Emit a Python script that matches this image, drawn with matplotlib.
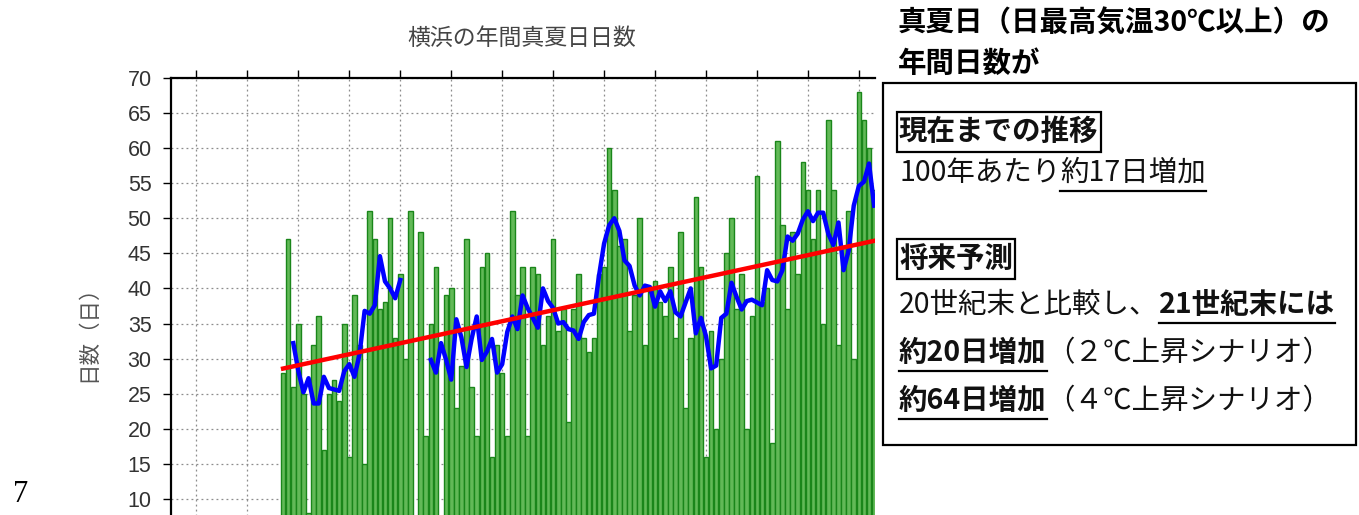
import numpy as np
import pandas as pd
import matplotlib
matplotlib.use("Agg")
import matplotlib.pyplot as plt
from matplotlib.lines import Line2D
from matplotlib.patches import Rectangle

# 横浜の年間真夏日日数（1923年は欠測）
years = list(range(1897, 2016))
days = [
    28, 47, 26, 35, 25, 8, 32, 36, 17, 25,          # 1897-1906
    27, 24, 35, 16, 39, 32, 15, 51, 47, 37,         # 1907-1916
    38, 50, 33, 42, 30, 51, np.nan, 48, 19, 35,     # 1917-1926
    43, 4, 39, 40, 23, 29, 47, 26, 19, 43,          # 1927-1936
    45, 16, 32, 28, 19, 51, 39, 43, 19, 43,         # 1937-1946
    42, 32, 36, 47, 34, 37, 21, 37, 42, 33,         # 1947-1956
    31, 33, 42, 43, 60, 54, 46, 47, 34, 39,         # 1957-1966
    50, 32, 40, 41, 38, 36, 43, 33, 48, 23,         # 1967-1976
    33, 53, 43, 16, 34, 20, 30, 45, 50, 37,         # 1977-1986
    42, 20, 36, 56, 38, 40, 18, 61, 49, 37,         # 1987-1996
    48, 42, 58, 54, 47, 54, 35, 64, 54, 32,         # 1997-2006
    46, 51, 30, 68, 64, 60, 54, 43, 38,             # 2007-2015
]
decade_ticks = list(range(1880, 2020, 10))
y_ticks = list(range(10, 75, 5))

JP = ["Noto Sans CJK JP", "DejaVu Sans"]
W, H = 1359, 515

s = pd.Series(days, index=years, dtype=float)
running = s.rolling(5, center=True).mean()
ok = s.notna()
coef = np.polyfit(s.index[ok], s[ok], 1)
trend = np.polyval(coef, s.index)

fig = plt.figure(figsize=(W / 100, H / 100), dpi=100)
ax = fig.add_axes([171 / W, 1 - 569 / H, (875 - 171) / W, 491 / H])

ax.bar(s.index, s.values, width=0.9, color="#62b957", edgecolor="#1a861a",
       linewidth=1.0, zorder=2)
ax.plot(running.index, running.values, color="#0000ff", linewidth=3.2, zorder=3)
ax.plot(s.index, trend, color="#ff0000", linewidth=3.2, zorder=4)

ax.set_xlim(1875, 2013.17)
ax.set_ylim(0, 70)
ax.set_yticks(y_ticks)
ax.set_xticks(decade_ticks)
ax.tick_params(axis="y", direction="out", length=6, width=1, pad=8,
               labelsize=15.5, labelcolor="#333333")
ax.tick_params(axis="x", direction="out", length=6, width=1, top=True,
               bottom=False, labelbottom=False)
for lab in ax.get_yticklabels():
    lab.set_family("Liberation Sans")
ax.grid(True, linestyle=(0, (1.5, 2.5)), color="#8c8c8c", linewidth=0.9)
ax.set_axisbelow(True)
ax.spines["right"].set_visible(False)
ax.spines["top"].set_linewidth(1.6)
ax.spines["left"].set_linewidth(1.6)

fig.text(522 / W, 1 - 38 / H, "横浜の年間真夏日日数", family=JP, fontsize=16.5,
         color="#444444", ha="center", va="center")
fig.text(88 / W, 1 - 328 / H, "日数（日）", family=JP, fontsize=15.5,
         color="#555555", rotation=90, ha="center", va="center")
fig.text(13 / W, 1 - 494 / H, "7", family=["Liberation Serif"], fontsize=22,
         ha="left", va="center")

# 右側の説明
fig.text(898 / W, 1 - 24 / H, "真夏日（日最高気温30℃以上）の", family=JP,
         fontsize=20.5, fontweight="bold", ha="left", va="center")
fig.text(898 / W, 1 - 64 / H, "年間日数が", family=JP,
         fontsize=20.5, fontweight="bold", ha="left", va="center")
fig.add_artist(Rectangle((883 / W, 1 - 445 / H), (1356 - 883) / W, (445 - 83) / H,
                         transform=fig.transFigure, facecolor="white",
                         edgecolor="black", linewidth=1.6, zorder=1))

renderer = fig.canvas.get_renderer()


def put_runs(x_px, y_px, runs, boxed=False):
    x = x_px
    for text, bold, under in runs:
        t = fig.text(x / W, 1 - y_px / H, text, family=JP, fontsize=20.5,
                     fontweight="bold" if bold else "normal",
                     color="#111111", ha="left", va="center", zorder=3)
        bb = t.get_window_extent(renderer)
        if under:
            yy = (H - y_px - 18) / H
            fig.add_artist(Line2D([bb.x0 / W, bb.x1 / W], [yy, yy],
                                  transform=fig.transFigure, color="black",
                                  linewidth=1.6, zorder=3))
        if boxed:
            fig.add_artist(Rectangle(((bb.x0 - 2) / W, (H - y_px - 20) / H),
                                     (bb.width + 4) / W, 40 / H,
                                     transform=fig.transFigure, fill=False,
                                     edgecolor="black", linewidth=1.6, zorder=3))
        x += bb.width


put_runs(899, 132, [("現在までの推移", True, False)], boxed=True)
put_runs(899, 173, [("100年あたり", False, False), ("約17日増加", False, True)])
put_runs(899, 259, [("将来予測", True, False)], boxed=True)
put_runs(899, 305, [("20世紀末と比較し、", False, False), ("21世紀末には", True, True)])
put_runs(899, 353, [("約20日増加", True, True), ("（２℃上昇シナリオ）", False, False)])
put_runs(899, 401, [("約64日増加", True, True), ("（４℃上昇シナリオ）", False, False)])

fig.savefig("out.png", dpi=100)
